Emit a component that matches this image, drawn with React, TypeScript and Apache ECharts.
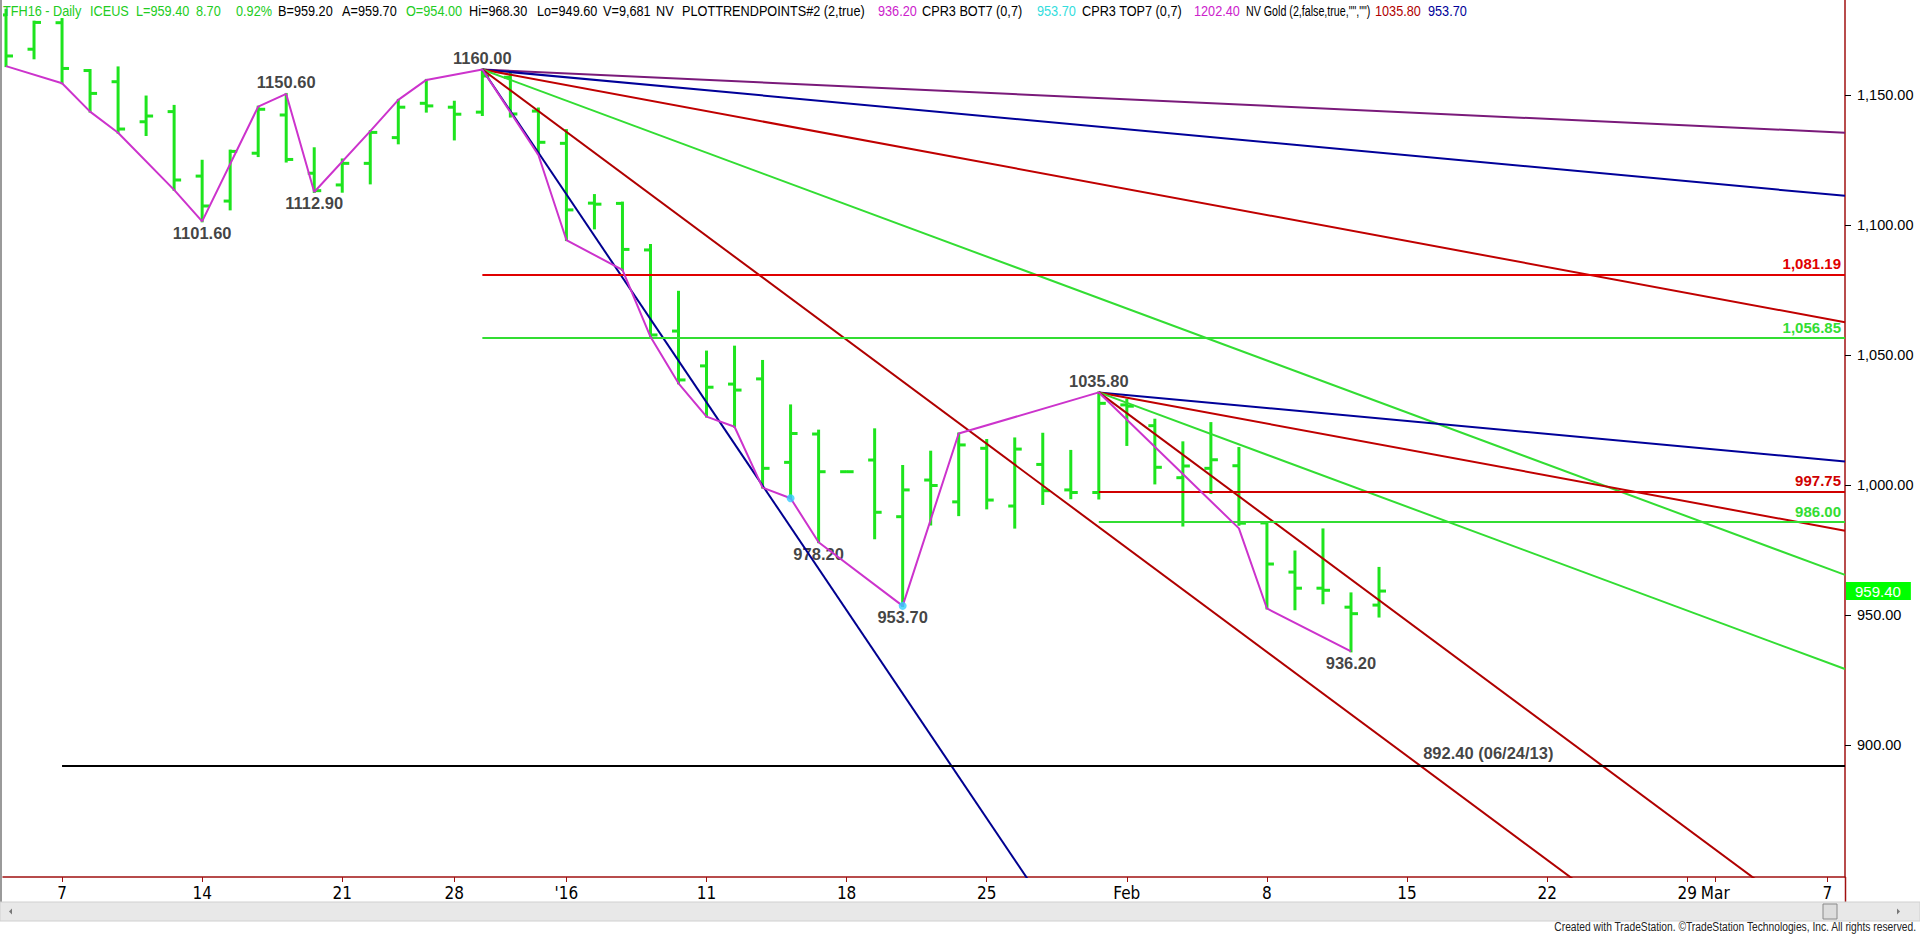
import React, { useEffect, useRef } from 'react';
import * as echarts from 'echarts';

// ---------- DATA ----------
const dates = [
  'Dec 3', 'Dec 4', 'Dec 7', 'Dec 8', 'Dec 9', 'Dec 10', 'Dec 11', 'Dec 14', 'Dec 15', 'Dec 16',
  'Dec 17', 'Dec 18', 'Dec 21', 'Dec 22', 'Dec 23', 'Dec 24', 'Dec 28', 'Dec 29', 'Dec 30', 'Dec 31',
  'Jan 4', 'Jan 5', 'Jan 6', 'Jan 7', 'Jan 8', 'Jan 11', 'Jan 12', 'Jan 13', 'Jan 14', 'Jan 15',
  'Jan 18', 'Jan 19', 'Jan 20', 'Jan 21', 'Jan 22', 'Jan 25', 'Jan 26', 'Jan 27', 'Jan 28', 'Jan 29',
  'Feb 1', 'Feb 2', 'Feb 3', 'Feb 4', 'Feb 5', 'Feb 8', 'Feb 9', 'Feb 10', 'Feb 11', 'Feb 12',
];
const opens = [
  1181.0, 1167.8, 1178.0, 1159.6, 1155.3, 1139.9, 1143.8, 1119.0, 1109.4, 1127.8,
  1142.5, 1120.1, 1115.6, 1123.9, 1133.8, 1147.0, 1145.5, 1143.6, 1157.0, 1144.0,
  1131.6, 1108.6, 1108.5, 1090.6, 1059.4, 1046.0, 1039.0, 1041.0, 1008.9, 1019.8,
  1005.3, 1009.8, 988.0, 1002.1, 993.7, 1014.3, 992.1, 1008.1, 998.3, 997.3,
  1031.0, 1023.0, 1003.0, 1006.6, 1007.6, 985.6, 966.7, 960.5, 953.2, 954.0,
];
const highs = [
  1183.0, 1178.4, 1179.4, 1159.8, 1160.8, 1149.6, 1146.0, 1124.9, 1128.8, 1145.7,
  1150.6, 1129.7, 1125.4, 1136.3, 1148.3, 1156.0, 1147.6, 1160.0, 1159.0, 1145.0,
  1136.7, 1111.7, 1108.8, 1092.5, 1074.5, 1051.5, 1053.4, 1047.9, 1030.8, 1021.1,
  1005.3, 1021.6, 1007.5, 1013.0, 1020.0, 1017.5, 1018.1, 1019.9, 1013.3, 1035.8,
  1033.0, 1025.3, 1016.6, 1024.0, 1014.4, 985.8, 974.6, 983.1, 958.5, 968.3,
];
const lows = [
  1161.3, 1164.3, 1154.7, 1143.8, 1135.7, 1134.8, 1113.7, 1101.6, 1106.2, 1126.7,
  1124.6, 1112.9, 1113.0, 1116.2, 1131.6, 1143.8, 1133.1, 1142.5, 1141.9, 1127.5,
  1094.4, 1098.9, 1082.9, 1057.2, 1039.3, 1026.5, 1022.6, 999.2, 995.1, 978.2,
  1005.3, 979.7, 953.7, 985.0, 988.6, 991.2, 983.8, 992.9, 995.1, 995.0,
  1015.6, 1000.8, 984.6, 997.1, 984.9, 952.7, 952.4, 954.7, 936.2, 949.6,
];
const closes = [
  1165.2, 1178.1, 1160.4, 1150.8, 1137.1, 1142.1, 1117.5, 1107.5, 1128.5, 1144.7,
  1125.4, 1113.4, 1123.9, 1135.8, 1145.5, 1146.0, 1142.8, 1157.5, 1142.9, 1132.0,
  1106.0, 1108.2, 1090.8, 1057.9, 1040.6, 1037.8, 1036.7, 1006.6, 1020.0, 1005.3,
  1005.3, 989.7, 998.3, 1000.0, 1015.6, 994.4, 1014.0, 998.0, 997.3, 1031.6,
  1030.5, 1007.0, 1007.5, 1009.9, 985.5, 969.8, 960.5, 959.7, 950.7, 959.4,
];

// x-axis labels (bar index -> text)
const tickIndex = [2, 7, 12, 16, 20, 25, 30, 35, 40, 45, 50, 55, 60, 61, 65];
const tickText = ['7', '14', '21', '28', "'16", '11', '18', '25', 'Feb', '8', '15', '22', '29', 'Mar', '7'];
// y-axis labels
const priceTicks = [900, 950, 1000, 1050, 1100, 1150];

// trend-point zigzag (bar index, price)
const pivotIdx = [0, 2, 3, 4, 6, 7, 9, 10, 11, 13, 14, 15, 17, 19, 20, 22, 23, 24, 25, 26, 27, 28, 29, 32, 34, 39, 44, 45, 48];
const pivotVal = [1161.3, 1154.7, 1143.8, 1135.7, 1113.7, 1101.6, 1145.7, 1150.6, 1112.9, 1136.3, 1148.3, 1156.0, 1160.0, 1127.1, 1094.4, 1082.9, 1057.2, 1039.3, 1026.5, 1022.6, 999.2, 995.1, 978.2, 953.7, 1020.0, 1035.8, 983.5, 952.7, 936.2];

// swing labels
const swingIdx = [7, 10, 11, 17, 29, 32, 39, 48];
const swingVal = [1101.6, 1150.6, 1112.9, 1160.0, 978.2, 953.7, 1035.8, 936.2];
const swingSide = ['bottom', 'top', 'bottom', 'top', 'bottom', 'bottom', 'top', 'bottom'];

// CPR3 dots
const dotIdx = [28, 32];
const dotVal = [995.1, 953.7];

// retracement levels
const levelValue = [1081.19, 1056.85, 997.75, 986.0];
const levelStart = [17, 17, 39, 39];
const levelText = ['1,081.19', '1,056.85', '997.75', '986.00'];
const levelColor = ['#e00000', '#33dd33', '#d00000', '#33dd33'];

// old support line
const supportValue = 892.4;
const supportStart = 2;
const supportText = '892.40 (06/24/13)';
const supportLabelIdx = 52.9;

// fan lines: anchor and end points [index, price]
const fanAnchorA = [17, 1160.0];
const fanEndsA = [[65.63, 1135.7], [65.63, 1111.4], [65.63, 1062.8], [65.63, 965.6], [60, 816.0], [40, 792.0]];
const fanColorsA = ['#7a1a7a', '#000099', '#c00000', '#33dd33', '#b00000', '#000090'];
const fanAnchorB = [39, 1035.8];
const fanEndsB = [[65.63, 1009.2], [65.63, 982.6], [65.63, 929.4], [65.63, 823.0]];
const fanColorsB = ['#000099', '#c00000', '#33dd33', '#b00000'];

const lastPrice = 959.4;

// header texts
const headerText = ['TFH16 - Daily', 'ICEUS', 'L=959.40', '8.70', '0.92%', 'B=959.20', 'A=959.70', 'O=954.00', 'Hi=968.30', 'Lo=949.60', 'V=9,681', 'NV', 'PLOTTRENDPOINTS#2 (2,true)', '936.20', 'CPR3 BOT7 (0,7)', '953.70', 'CPR3 TOP7 (0,7)', '1202.40', 'NV Gold (2,false,true,"","")', '1035.80', '953.70'];
const headerX = [3, 90, 136, 196, 236, 278, 342, 406, 469, 537, 603, 656, 682, 878, 922, 1037, 1082, 1194, 1246, 1375, 1428];
const headerScale = [0.82, 0.82, 0.82, 0.82, 0.82, 0.82, 0.82, 0.82, 0.82, 0.82, 0.82, 0.82, 0.82, 0.82, 0.82, 0.82, 0.82, 0.82, 0.69, 0.82, 0.82];
const headerColor = ['#22cc22', '#22cc22', '#22cc22', '#22cc22', '#22cc22', '#000', '#000', '#22cc22', '#000', '#000', '#000', '#000', '#000', '#cc22cc', '#000', '#33dddd', '#000', '#cc22cc', '#000', '#b00000', '#000099'];

// ---------- LAYOUT ----------
const X_MIN = -0.107;
const X_MAX = 65.63;
const Y_MIN = 849.42;
const Y_MAX = 1186.73;
const BAR_GREEN = '#1ee41e';
const AXIS_RED = '#a01010';
const FONT_NARROW = "'Liberation Sans Narrow', 'Arial Narrow', 'DejaVu Sans Condensed', sans-serif";
const FONT_SANS = "'Liberation Sans', Arial, sans-serif";
const NARROW_SCALE = 0.82;

export default function App() {
  const ref = useRef<HTMLDivElement>(null);
  useEffect(() => {
    if (!ref.current) return;
    const chart = echarts.init(ref.current, null, { renderer: 'svg' });

    const barData = dates.map((d, i) => [i, opens[i], highs[i], lows[i], closes[i]]);

    const fanSeries: any[] = [];
    fanEndsA.forEach((e, k) => {
      fanSeries.push({
        type: 'line', data: [fanAnchorA, e], symbol: 'none', clip: true, z: 4, silent: true,
        lineStyle: { color: fanColorsA[k], width: 2 },
      });
    });
    fanEndsB.forEach((e, k) => {
      fanSeries.push({
        type: 'line', data: [fanAnchorB, e], symbol: 'none', clip: true, z: 4, silent: true,
        lineStyle: { color: fanColorsB[k], width: 2 },
      });
    });

    const levelLines = levelValue.map((v, k) => [
      {
        coord: [levelStart[k], v],
        lineStyle: { color: levelColor[k], width: 2, type: 'solid' },
        label: {
          show: true, position: 'insideEndTop', formatter: levelText[k], color: levelColor[k],
          fontFamily: FONT_SANS, fontWeight: 'bold', fontSize: 15, distance: [4, 3],
        },
      },
      { coord: [X_MAX, v] },
    ]);

    const option: any = {
      animation: false,
      backgroundColor: '#ffffff',
      grid: { left: 3, right: 75, top: 0, bottom: 57, outerBoundsMode: 'none' },
      xAxis: {
        type: 'value', min: X_MIN, max: X_MAX,
        splitLine: { show: false },
        axisLine: { show: true, onZero: false, lineStyle: { color: AXIS_RED, width: 1.5 } },
        axisTick: { show: true, customValues: tickIndex, length: 5, lineStyle: { color: AXIS_RED } },
        axisLabel: {
          customValues: tickIndex, hideOverlap: false, margin: 7,
          formatter: (v: number) => tickText[tickIndex.indexOf(v)] ?? '',
          color: '#000', fontFamily: FONT_NARROW, fontSize: 17,
        },
      },
      yAxis: [
        {
          type: 'value', position: 'right', min: Y_MIN, max: Y_MAX,
          splitLine: { show: false },
          axisLine: { show: true, onZero: false, lineStyle: { color: AXIS_RED, width: 1.5 } },
          axisTick: { show: true, customValues: priceTicks, length: 6, lineStyle: { color: '#000' } },
          axisLabel: {
            customValues: priceTicks, hideOverlap: false, margin: 12,
            formatter: (v: number) => v.toLocaleString('en-US', { minimumFractionDigits: 2, maximumFractionDigits: 2 }),
            color: '#000', fontFamily: FONT_SANS, fontSize: 14.5,
          },
        },
        {
          type: 'value', position: 'right', min: Y_MIN, max: Y_MAX,
          splitLine: { show: false },
          axisLine: { show: false },
          axisTick: { show: false },
          axisLabel: {
            customValues: [lastPrice], hideOverlap: false, margin: 1,
            formatter: (v: number) => v.toFixed(2),
            color: '#ffffff', backgroundColor: '#00ff00', padding: [2, 10, 1, 9],
            fontFamily: FONT_SANS, fontSize: 15,
          },
        },
      ],
      series: [
        {
          type: 'custom', name: 'bars', data: barData, clip: true, z: 2, silent: true,
          encode: { x: 0, y: [1, 2, 3, 4] },
          renderItem: (params: any, api: any) => {
            const x = api.value(0);
            const o = api.coord([x, api.value(1)]);
            const h = api.coord([x, api.value(2)]);
            const l = api.coord([x, api.value(3)]);
            const c = api.coord([x, api.value(4)]);
            const style = { stroke: BAR_GREEN, lineWidth: 3 };
            return {
              type: 'group',
              children: [
                { type: 'line', shape: { x1: h[0], y1: h[1] - 1, x2: l[0], y2: l[1] + 1 }, style },
                { type: 'line', shape: { x1: o[0] - 6.5, y1: o[1], x2: o[0], y2: o[1] }, style },
                { type: 'line', shape: { x1: c[0], y1: c[1], x2: c[0] + 7, y2: c[1] }, style },
              ],
            };
          },
        },
        {
          type: 'line', name: 'levels', data: [], silent: true, z: 3,
          markLine: {
            silent: true, symbol: 'none', animation: false,
            data: [
              ...levelLines,
              [
                { coord: [supportStart, supportValue], lineStyle: { color: '#000', width: 2, type: 'solid' }, label: { show: false } },
                { coord: [X_MAX, supportValue] },
              ],
            ],
          },
        },
        ...fanSeries,
        {
          type: 'line', name: 'trendpoints', z: 5, silent: true,
          data: pivotIdx.map((x, k) => [x, pivotVal[k]]),
          symbol: 'none', clip: true,
          lineStyle: { color: '#cc33cc', width: 2 },
        },
        {
          type: 'scatter', name: 'cpr', z: 6, silent: true,
          data: dotIdx.map((x, k) => [x, dotVal[k]]),
          symbolSize: 8, itemStyle: { color: '#33ccff' },
        },
        {
          type: 'scatter', name: 'swings', z: 1, silent: true,
          data: swingIdx.map((x, k) => ({
            value: [x, swingVal[k]],
            label: { position: swingSide[k] },
          })),
          symbolSize: 0,
          label: {
            show: true, distance: 3,
            formatter: (p: any) => p.value[1].toFixed(2),
            color: '#111', fontFamily: FONT_SANS, fontWeight: 'bold', fontSize: 16.5,
          },
        },
        {
          type: 'scatter', name: 'support label', z: 1, silent: true,
          data: [[supportLabelIdx, supportValue]],
          symbolSize: 0,
          label: {
            show: true, position: 'top', distance: 4, formatter: supportText,
            color: '#111', fontFamily: FONT_SANS, fontWeight: 'bold', fontSize: 16.5,
          },
        },
      ],
      graphic: [
        { type: 'rect', z: 50, shape: { x: 0, y: 0, width: 2, height: 921 }, style: { fill: '#9a9a9a' } },
        { type: 'line', z: 50, shape: { x1: 1845.5, y1: 877, x2: 1845.5, y2: 902 }, style: { stroke: AXIS_RED, lineWidth: 1.5 } },
        { type: 'rect', z: 50, shape: { x: 0, y: 902, width: 1920, height: 19 }, style: { fill: '#e8e8e8', stroke: '#d0d0d0', lineWidth: 1 } },
        { type: 'polygon', z: 51, shape: { points: [[9, 911.5], [12, 908.5], [12, 914.5]] }, style: { fill: '#777' } },
        { type: 'polygon', z: 51, shape: { points: [[1900, 911.5], [1897, 908.5], [1897, 914.5]] }, style: { fill: '#777' } },
        { type: 'rect', z: 51, shape: { x: 1823, y: 904, width: 14, height: 15 }, style: { fill: '#dddddd', stroke: '#8a8a8a', lineWidth: 1 } },
        {
          type: 'text', z: 51, x: 1916, y: 926.5, scaleX: NARROW_SCALE,
          style: {
            text: 'Created with TradeStation. ©TradeStation Technologies, Inc. All rights reserved.',
            fill: '#222', fontFamily: FONT_SANS, fontSize: 12.5, align: 'right', verticalAlign: 'middle',
          },
        },
        ...headerText.map((t, k) => ({
          type: 'text', z: 60, x: headerX[k], y: 11, scaleX: headerScale[k],
          style: {
            text: t, fill: headerColor[k], fontFamily: FONT_SANS, fontSize: 15.5,
            align: 'left', verticalAlign: 'middle',
          },
        })),
      ],
    };

    chart.setOption(option);
    return () => chart.dispose();
  }, []);

  return <div ref={ref} style={{ position: 'fixed', left: 0, top: 0, width: 1920, height: 934, background: '#fff' }} />;
}
